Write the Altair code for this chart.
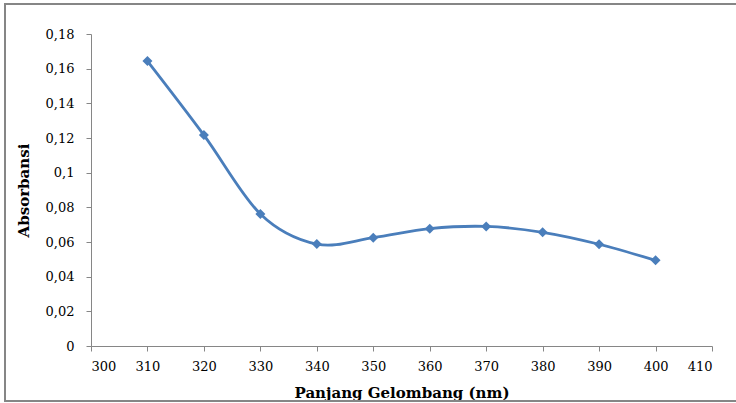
import altair as alt
import pandas as pd

wavelength = [310, 320, 330, 340, 350, 360, 370, 380, 390, 400]
absorbance = [0.1644, 0.1217, 0.0762, 0.0588, 0.0625, 0.0677, 0.0690, 0.0656, 0.0587, 0.0494]
x_ticks = [300, 310, 320, 330, 340, 350, 360, 370, 380, 390, 400, 410]
y_ticks = [0, 0.02, 0.04, 0.06, 0.08, 0.1, 0.12, 0.14, 0.16, 0.18]

df = pd.DataFrame({"wl": wavelength, "abs": absorbance})

FONT = "DejaVu Serif"
BLUE = "#4a7ebb"
GRAY = "#868686"

x_enc = alt.X("wl:Q", scale=alt.Scale(domain=[300, 410], nice=False, zero=False),
              axis=alt.Axis(values=x_ticks, title="Panjang Gelombang (nm)", grid=False,
                            domainColor=GRAY, tickColor=GRAY, tickSize=5,
                            labelFont=FONT, labelFontSize=13, labelColor="#000",
                            labelPadding=9, labelOverlap=False,
                            titleFont=FONT, titleFontSize=15,
                            titleFontWeight="bold", titleColor="#000", titlePadding=12,
                            format="d"))
y_enc = alt.Y("abs:Q", scale=alt.Scale(domain=[0, 0.18], nice=False),
              axis=alt.Axis(values=y_ticks, title="Absorbansi", grid=False,
                            domainColor=GRAY, tickColor=GRAY, tickSize=5,
                            labelFont=FONT, labelFontSize=13, labelColor="#000",
                            labelPadding=12, labelOverlap=False,
                            titleFont=FONT, titleFontSize=15,
                            titleFontWeight="bold", titleColor="#000", titlePadding=14,
                            labelExpr="replace(format(datum.value, '~g'), '.', ',')"))

base = alt.Chart(df).encode(x=x_enc, y=y_enc)
line = base.mark_line(interpolate="cardinal", color=BLUE, strokeWidth=2.8)
pts = base.mark_point(shape="diamond", filled=True, size=100, color=BLUE, opacity=1)

frame = alt.Chart(df).mark_rect(fill=None, stroke=GRAY, strokeWidth=2, clip=False).encode(
    x=alt.value(-86), x2=alt.value(660), y=alt.value(-30), y2=alt.value(367))

chart = alt.layer(line, pts, frame).properties(
    width=621, height=312,
    autosize=alt.AutoSizeParams(type="none"),
    padding={"left": 91, "top": 34, "right": 24, "bottom": 57},
).configure_view(stroke=None)

chart.save("out.html", embed_options={"renderer": "svg", "actions": False})
